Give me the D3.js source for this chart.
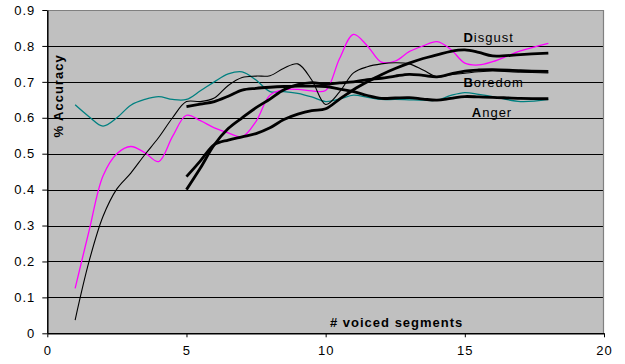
<!DOCTYPE html>
<html><head><meta charset="utf-8">
<script src="https://cdn.jsdelivr.net/npm/d3@7"></script>
<style>
html,body{margin:0;padding:0;background:#fff;}
svg{display:block;font-family:"Liberation Sans",Arial,sans-serif;}
</style></head>
<body><svg id="c" width="625" height="364"></svg>
<script>
// x positions (# voiced segments)
const xThin  = [1,1.5,2,2.5,3,3.5,4,4.5,5,5.5,6,6.5,7,7.5,8,8.5,9,9.5,10,10.5,11,11.5,12,12.5,13,13.5,14,14.5,15,15.5,16,17,18];
const xThick = [5,5.5,6,6.5,7,7.5,8,8.5,9,9.5,10,10.5,11,11.5,12,12.5,13,13.5,14,14.5,15,15.5,16,17,18];

// thin series
const magentaVals = [0.125,0.285,0.438,0.50,0.52,0.503,0.478,0.548,0.607,0.592,0.572,0.558,0.547,0.59,0.663,0.678,0.679,0.675,0.676,0.765,0.832,0.80,0.755,0.758,0.784,0.80,0.812,0.79,0.752,0.747,0.756,0.786,0.807];
const tealVals    = [0.636,0.603,0.577,0.60,0.635,0.651,0.659,0.651,0.651,0.675,0.70,0.722,0.728,0.705,0.673,0.673,0.668,0.658,0.645,0.652,0.663,0.657,0.651,0.651,0.650,0.649,0.649,0.662,0.670,0.665,0.659,0.645,0.651];
const blackVals   = [0.037,0.20,0.325,0.402,0.446,0.497,0.545,0.60,0.645,0.645,0.655,0.69,0.712,0.716,0.717,0.738,0.75,0.705,0.637,0.672,0.725,0.742,0.75,0.753,0.75,0.733,0.714,0.72,0.724,0.728,0.73,0.727,0.725];

// thick series
const disgustVals = [0.436,0.48,0.525,0.538,0.547,0.556,0.572,0.595,0.61,0.62,0.625,0.652,0.678,0.70,0.72,0.737,0.752,0.765,0.775,0.785,0.789,0.782,0.772,0.776,0.78];
const boredomVals = [0.40,0.46,0.525,0.57,0.60,0.628,0.652,0.678,0.692,0.698,0.694,0.697,0.70,0.706,0.71,0.716,0.721,0.718,0.714,0.722,0.73,0.733,0.734,0.731,0.729];
const angerVals   = [0.631,0.638,0.645,0.66,0.677,0.682,0.685,0.687,0.688,0.688,0.687,0.68,0.673,0.662,0.654,0.655,0.656,0.652,0.649,0.654,0.659,0.658,0.657,0.654,0.653];

const xTicks = [0,5,10,15,20];
const yTicks = [0,0.1,0.2,0.3,0.4,0.5,0.6,0.7,0.8,0.9];
const labels = [{first:"D",rest:"isgust",x:14.95,y:0.812},{first:"B",rest:"oredom",x:14.95,y:0.686},{first:"A",rest:"nger",x:15.25,y:0.603}];

const svg = d3.select("#c");
const L=47.3, R=604, T=10, B=333.3;
const x = d3.scaleLinear().domain([0,20]).range([L,R]);
const y = d3.scaleLinear().domain([0,0.9]).range([B,T]);

svg.append("rect").attr("x",L).attr("y",T).attr("width",R-L).attr("height",B-T).attr("fill","#c0c0c0");
// gridlines
svg.append("g").selectAll("line").data(yTicks.filter(d=>d>0 && d<0.9)).join("line")
  .attr("x1",L).attr("x2",R).attr("y1",d=>Math.round(y(d))+0.5).attr("y2",d=>Math.round(y(d))+0.5)
  .attr("stroke","#000").attr("stroke-width",1);
// top/right border
svg.append("path").attr("d",`M${L},${T+0.5}H${R-0.5}V${B}`).attr("fill","none").attr("stroke","#808080").attr("stroke-width",1.2);

// axes
const ax = svg.append("g").attr("transform",`translate(0,${B})`)
  .call(d3.axisBottom(x).tickValues(xTicks).tickSize(4).tickSizeOuter(0).tickPadding(8));
const ay = svg.append("g").attr("transform",`translate(${L},0)`)
  .call(d3.axisLeft(y).tickValues(yTicks).tickSize(5).tickSizeOuter(0).tickPadding(7).tickFormat(d=>d===0?"0":d3.format(".1f")(d)));
[ax,ay].forEach(g=>{
  g.select(".domain").attr("stroke","#000").attr("stroke-width",1.5);
  g.selectAll(".tick line").attr("stroke","#000");
  g.selectAll("text").attr("font-size",13).attr("fill","#000").attr("letter-spacing","1px")
   .attr("font-family","'Liberation Sans',Arial,sans-serif");
});

const line = (xs)=>d3.line().x((d,i)=>x(xs[i])).y(d=>y(d)).curve(d3.curveCatmullRom.alpha(0.5));
const series = [
  {v:tealVals, xs:xThin, c:"#008080", w:1.3},
  {v:magentaVals, xs:xThin, c:"#ff00ff", w:1.3},
  {v:blackVals, xs:xThin, c:"#000", w:1.1},
  {v:angerVals, xs:xThick, c:"#000", w:2.8},
  {v:boredomVals, xs:xThick, c:"#000", w:2.8},
  {v:disgustVals, xs:xThick, c:"#000", w:2.8}
];
const gl = svg.append("g");
series.forEach(s=>{
  gl.append("path").datum(s.v).attr("d",line(s.xs)).attr("fill","none")
    .attr("stroke",s.c).attr("stroke-width",s.w).attr("stroke-linejoin","round");
});

// labels
labels.forEach(l=>{
  const t = svg.append("text").attr("x",x(l.x)).attr("y",y(l.y)).attr("font-size",13).attr("letter-spacing","1px").attr("fill","#000");
  t.append("tspan").attr("font-weight","bold").text(l.first);
  t.append("tspan").text(l.rest);
});

svg.append("text").attr("transform",`translate(63,96) rotate(-90)`).attr("text-anchor","middle")
  .attr("font-size",13).attr("font-weight","bold").attr("letter-spacing","1px").text("% Accuracy");
svg.append("text").attr("x",330).attr("y",327).attr("font-size",13).attr("font-weight","bold").attr("letter-spacing","1px").text("# voiced segments");
</script></body></html>
